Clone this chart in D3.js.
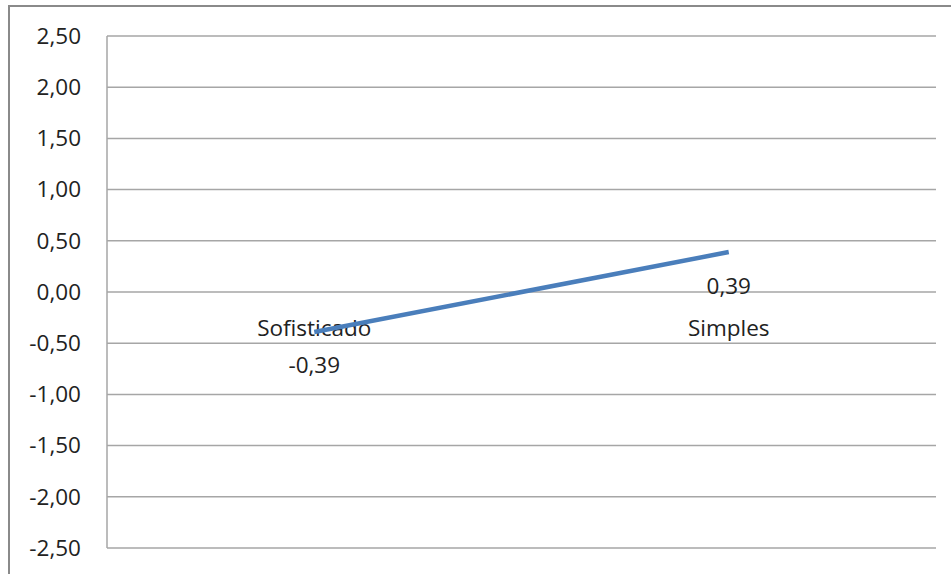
<!DOCTYPE html>
<html>
<head>
<meta charset="utf-8">
<script src="https://cdn.jsdelivr.net/npm/d3@7"></script>
<style>
  html, body { margin: 0; padding: 0; background: #fff; }
  svg text { font-family: "Open Sans", "DejaVu Sans", sans-serif; fill: #222; }
</style>
</head>
<body>
<svg id="chart" width="951" height="574"></svg>
<script>
// Chart data
const categories = ["Sofisticado", "Simples"];
const values = [-0.39, 0.39];
const valueLabels = ["-0,39", "0,39"];
const yTicks = [2.5, 2.0, 1.5, 1.0, 0.5, 0.0, -0.5, -1.0, -1.5, -2.0, -2.5];

const svg = d3.select("#chart");
const margin = { left: 107, top: 36, right: 936, bottom: 548 };
const fontSize = 22.5;

// Outer chart frame
svg.append("rect")
  .attr("x", 9).attr("y", 6)
  .attr("width", 960).attr("height", 600)
  .attr("fill", "none")
  .attr("stroke", "#8a8a8a")
  .attr("stroke-width", 2);

const x = d3.scaleBand().domain(categories).range([margin.left, margin.right]);
const y = d3.scaleLinear().domain([-2.5, 2.5]).range([margin.bottom, margin.top]);

// Decimal comma, plain hyphen for negatives
const fmt = d => d3.format(".2f")(d).replace(".", ",").replace("\u2212", "-");

// Horizontal gridlines
svg.append("g")
  .selectAll("line")
  .data(yTicks)
  .join("line")
  .attr("x1", margin.left).attr("x2", margin.right)
  .attr("y1", d => y(d)).attr("y2", d => y(d))
  .attr("stroke", "#a6a6a6")
  .attr("stroke-width", 1.5);

// Plot area left edge
svg.append("line")
  .attr("x1", margin.left).attr("x2", margin.left)
  .attr("y1", margin.top).attr("y2", margin.bottom)
  .attr("stroke", "#a6a6a6")
  .attr("stroke-width", 1.5);

// Value axis labels
const yAxis = d3.axisLeft(y).tickValues(yTicks).tickFormat(fmt).tickSize(0).tickPadding(26);
const gy = svg.append("g").attr("transform", `translate(${margin.left},0)`).call(yAxis);
gy.select(".domain").remove();
gy.selectAll("text")
  .attr("font-size", fontSize)
  .style("font-family", '"Open Sans", "DejaVu Sans", sans-serif')
  .attr("fill", "#222");

// Category labels, placed just below the zero line
svg.append("g")
  .selectAll("text")
  .data(categories)
  .join("text")
  .attr("x", d => x(d) + x.bandwidth() / 2)
  .attr("y", y(0) + 35)
  .attr("text-anchor", "middle")
  .attr("dominant-baseline", "central")
  .attr("font-size", fontSize)
  .text(d => d);

// Data line
const line = d3.line()
  .x((d, i) => x(categories[i]) + x.bandwidth() / 2)
  .y(d => y(d));

svg.append("path")
  .datum(values)
  .attr("d", line)
  .attr("fill", "none")
  .attr("stroke", "#4a7ebb")
  .attr("stroke-width", 4.5)
  .attr("stroke-linecap", "butt");

// Data labels below each point
svg.append("g")
  .selectAll("text")
  .data(values)
  .join("text")
  .attr("x", (d, i) => x(categories[i]) + x.bandwidth() / 2)
  .attr("y", d => y(d) + 33)
  .attr("text-anchor", "middle")
  .attr("dominant-baseline", "central")
  .attr("font-size", fontSize)
  .text((d, i) => valueLabels[i]);
</script>
</body>
</html>
